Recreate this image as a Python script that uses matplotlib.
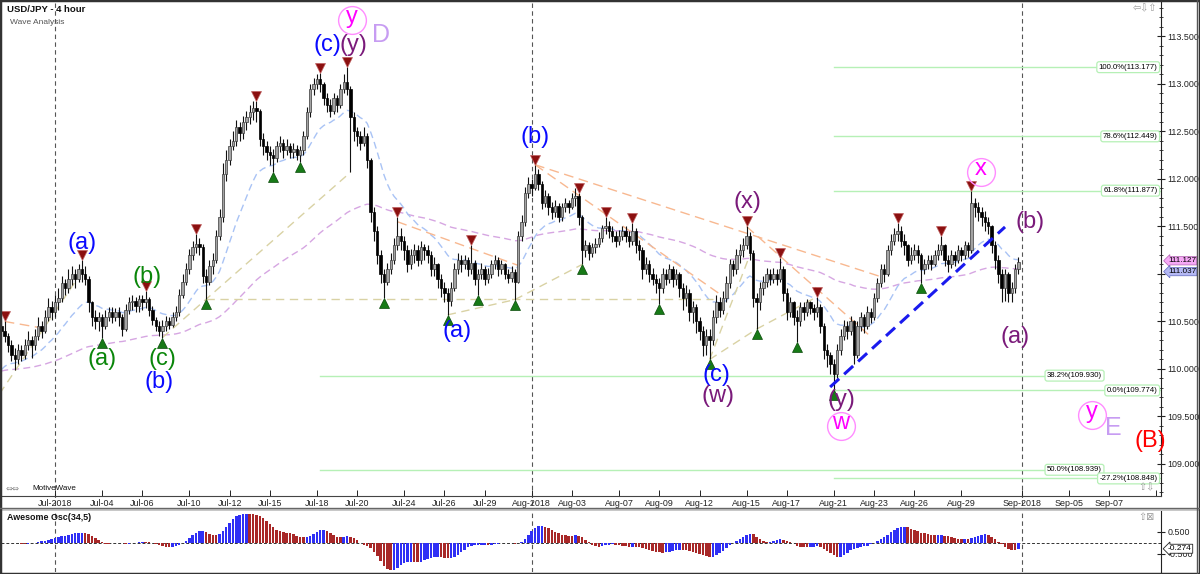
import numpy as np
import pandas as pd
import matplotlib
matplotlib.use("Agg")
import matplotlib.pyplot as plt
from matplotlib import transforms
from matplotlib.patches import Rectangle
from matplotlib.lines import Line2D
from matplotlib.ticker import MultipleLocator

plt.rcParams['font.family'] = ['Liberation Sans', 'DejaVu Sans']

# ---------------- data (USD/JPY 4h bars, 27 Jun 2018 08:00 .. 31 Aug 2018 20:00) ----------------
first_bar = "2018-06-27 08:00"
open0 = 110.45
closes = [
    110.40, 110.35, 110.25, 110.15, 110.10, 110.20, 110.15, 110.25,
    110.30, 110.25, 110.35, 110.45, 110.40, 110.55, 110.65, 110.60,
    110.70, 110.75, 110.90, 110.85, 110.95, 111.00, 110.95, 111.05,
    111.00, 110.95, 110.70, 110.55, 110.50, 110.55, 110.45, 110.55,
    110.60, 110.55, 110.60, 110.55, 110.42, 110.62, 110.70, 110.72,
    110.66, 110.74, 110.70, 110.74, 110.62, 110.52, 110.45, 110.40,
    110.45, 110.50, 110.46, 110.55, 110.60, 110.78, 110.92, 111.05,
    111.20, 111.28, 111.32, 111.28, 110.98, 110.92, 111.08, 111.15,
    111.40, 111.60, 112.05, 112.20, 112.35, 112.40, 112.55, 112.48,
    112.60, 112.65, 112.70, 112.75, 112.72, 112.42, 112.35, 112.28,
    112.25, 112.22, 112.35, 112.38, 112.30, 112.35, 112.28, 112.32,
    112.25, 112.30, 112.45, 112.70, 112.95, 113.00, 113.05, 113.00,
    112.85, 112.78, 112.72, 112.85, 112.78, 112.95, 113.02, 112.95,
    112.65, 112.50, 112.45, 112.38, 112.45, 112.20, 111.65, 111.45,
    111.20, 111.00, 110.92, 111.05, 111.15, 111.30, 111.40, 111.35,
    111.25, 111.10, 111.20, 111.25, 111.15, 111.28, 111.25, 111.20,
    111.05, 111.10, 110.95, 110.85, 110.80, 110.72, 110.85, 111.05,
    111.15, 111.10, 111.15, 111.05, 111.12, 110.95, 111.00, 111.05,
    110.95, 111.00, 111.10, 111.15, 111.05, 111.10, 111.00, 110.96,
    111.02, 110.92, 111.40, 111.55, 111.85, 111.95, 111.90, 112.05,
    111.95, 111.75, 111.82, 111.70, 111.65, 111.72, 111.60, 111.70,
    111.75, 111.70, 111.80, 111.82, 111.60, 111.25, 111.30, 111.22,
    111.28, 111.32, 111.38, 111.48, 111.50, 111.45, 111.40, 111.35,
    111.40, 111.45, 111.40, 111.35, 111.45, 111.30, 111.25, 111.05,
    111.10, 111.00, 110.95, 110.90, 110.85, 111.00, 110.95, 111.05,
    110.95, 111.00, 110.85, 110.75, 110.80, 110.60, 110.65, 110.50,
    110.40, 110.25, 110.35, 110.30, 110.55, 110.70, 110.62, 110.75,
    110.90, 111.10, 111.05, 111.20, 111.25, 111.30, 111.40, 111.22,
    110.75, 110.70, 110.85, 110.92, 111.00, 110.95, 111.00, 110.95,
    111.05, 110.80, 110.60, 110.70, 110.55, 110.50, 110.65, 110.60,
    110.70, 110.64, 110.60, 110.65, 110.45, 110.20, 110.15, 110.05,
    109.95, 110.20, 110.35, 110.45, 110.40, 110.50, 110.15, 110.45,
    110.55, 110.45, 110.60, 110.55, 110.75, 110.90, 111.05, 111.00,
    111.25, 111.35, 111.42, 111.45, 111.35, 111.30, 111.15, 111.20,
    111.25, 111.20, 111.05, 111.10, 111.15, 111.10, 111.20, 111.25,
    111.30, 111.15, 111.10, 111.20, 111.15, 111.25, 111.20, 111.30,
    111.25, 111.75, 111.70, 111.65, 111.60, 111.55, 111.50, 111.30,
    111.15, 111.00, 110.85, 111.00, 110.80, 110.85, 111.05, 111.127,
]
highs = [
    110.52, 110.50, 110.38, 110.30, 110.22, 110.26, 110.25, 110.32,
    110.40, 110.35, 110.42, 110.55, 110.50, 110.62, 110.75, 110.72,
    110.78, 110.85, 110.98, 110.95, 111.05, 111.08, 111.05, 111.10,
    111.15, 111.08, 110.98, 110.72, 110.62, 110.60, 110.58, 110.62,
    110.65, 110.65, 110.64, 110.65, 110.58, 110.68, 110.76, 110.78,
    110.76, 110.78, 110.78, 110.82, 110.76, 110.66, 110.55, 110.50,
    110.52, 110.56, 110.55, 110.60, 110.66, 110.84, 111.00, 111.12,
    111.26, 111.35, 111.42, 111.38, 111.32, 111.05, 111.15, 111.22,
    111.46, 111.68, 112.17, 112.30, 112.42, 112.50, 112.62, 112.60,
    112.66, 112.72, 112.78, 112.82, 112.82, 112.74, 112.48, 112.40,
    112.35, 112.32, 112.40, 112.45, 112.42, 112.42, 112.38, 112.38,
    112.36, 112.35, 112.50, 112.76, 113.00, 113.06, 113.10, 113.12,
    113.02, 112.90, 112.84, 112.90, 112.88, 113.00, 113.10, 113.177,
    112.98, 112.70, 112.55, 112.50, 112.55, 112.48, 112.22, 111.70,
    111.50, 111.25, 111.05, 111.12, 111.22, 111.38, 111.60, 111.48,
    111.40, 111.30, 111.26, 111.32, 111.30, 111.35, 111.32, 111.30,
    111.24, 111.18, 111.12, 111.00, 110.92, 110.85, 110.92, 111.12,
    111.22, 111.20, 111.20, 111.18, 111.30, 111.15, 111.05, 111.12,
    111.08, 111.06, 111.15, 111.20, 111.18, 111.15, 111.12, 111.05,
    111.08, 111.05, 111.45, 111.62, 111.92, 112.02, 112.00, 112.15,
    112.10, 111.98, 111.88, 111.85, 111.76, 111.78, 111.75, 111.75,
    111.80, 111.78, 111.85, 111.90, 111.85, 111.62, 111.36, 111.34,
    111.33, 111.38, 111.44, 111.52, 111.60, 111.56, 111.50, 111.45,
    111.46, 111.50, 111.50, 111.45, 111.54, 111.48, 111.36, 111.28,
    111.18, 111.15, 111.06, 111.00, 110.96, 111.06, 111.05, 111.10,
    111.08, 111.05, 111.02, 110.90, 110.88, 110.84, 110.72, 110.68,
    110.55, 110.45, 110.42, 110.42, 110.62, 110.78, 110.76, 110.82,
    110.98, 111.16, 111.15, 111.26, 111.32, 111.38, 111.50, 111.44,
    111.25, 110.80, 110.92, 110.98, 111.06, 111.05, 111.06, 111.05,
    111.17, 111.08, 110.85, 110.76, 110.72, 110.62, 110.70, 110.70,
    110.74, 110.72, 110.68, 110.76, 110.68, 110.48, 110.26, 110.18,
    110.10, 110.26, 110.42, 110.52, 110.50, 110.56, 110.52, 110.50,
    110.60, 110.58, 110.66, 110.64, 110.80, 110.96, 111.10, 111.10,
    111.30, 111.42, 111.48, 111.54, 111.50, 111.42, 111.32, 111.28,
    111.32, 111.30, 111.22, 111.16, 111.20, 111.20, 111.25, 111.32,
    111.40, 111.32, 111.20, 111.25, 111.24, 111.30, 111.28, 111.35,
    111.34, 111.877, 111.80, 111.76, 111.70, 111.66, 111.60, 111.52,
    111.35, 111.20, 111.05, 111.05, 111.02, 110.92, 111.10, 111.18,
]
lows = [
    110.32, 110.28, 110.18, 110.08, 109.99, 110.05, 110.08, 110.10,
    110.20, 110.12, 110.20, 110.30, 110.33, 110.38, 110.50, 110.52,
    110.55, 110.62, 110.70, 110.78, 110.80, 110.88, 110.85, 110.92,
    110.92, 110.88, 110.60, 110.45, 110.42, 110.40, 110.33, 110.42,
    110.50, 110.48, 110.50, 110.45, 110.35, 110.40, 110.58, 110.62,
    110.60, 110.60, 110.62, 110.64, 110.56, 110.46, 110.40, 110.35,
    110.33, 110.40, 110.42, 110.44, 110.50, 110.56, 110.75, 110.88,
    111.00, 111.15, 111.22, 111.20, 110.90, 110.74, 110.88, 111.00,
    111.12, 111.36, 111.55, 111.98, 112.15, 112.30, 112.35, 112.40,
    112.42, 112.52, 112.58, 112.62, 112.60, 112.35, 112.25, 112.20,
    112.15, 112.07, 112.18, 112.28, 112.22, 112.25, 112.22, 112.22,
    112.20, 112.18, 112.25, 112.42, 112.65, 112.88, 112.95, 112.92,
    112.78, 112.70, 112.65, 112.68, 112.70, 112.75, 112.90, 112.88,
    112.07, 112.40, 112.35, 112.30, 112.35, 112.12, 111.55, 111.35,
    111.10, 110.90, 110.75, 110.88, 111.00, 111.10, 111.25, 111.25,
    111.15, 111.02, 111.05, 111.12, 111.08, 111.10, 111.15, 111.12,
    110.98, 110.98, 110.85, 110.76, 110.70, 110.57, 110.66, 110.82,
    111.00, 111.02, 111.05, 110.98, 111.00, 110.88, 110.78, 110.95,
    110.88, 110.90, 110.96, 111.05, 110.98, 111.00, 110.95, 110.90,
    110.92, 110.73, 110.90, 111.35, 111.50, 111.80, 111.82, 111.88,
    111.88, 111.68, 111.70, 111.62, 111.58, 111.60, 111.55, 111.56,
    111.65, 111.64, 111.68, 111.72, 111.52, 111.10, 111.18, 111.15,
    111.18, 111.22, 111.28, 111.34, 111.42, 111.38, 111.34, 111.28,
    111.30, 111.36, 111.34, 111.28, 111.30, 111.22, 111.15, 110.95,
    111.00, 110.92, 110.88, 110.80, 110.68, 110.80, 110.88, 110.90,
    110.86, 110.88, 110.76, 110.62, 110.66, 110.50, 110.48, 110.38,
    110.30, 110.14, 110.15, 110.10, 110.25, 110.48, 110.55, 110.58,
    110.70, 110.85, 110.98, 111.00, 111.12, 111.18, 111.26, 111.15,
    110.65, 110.42, 110.62, 110.78, 110.86, 110.88, 110.90, 110.88,
    110.92, 110.72, 110.52, 110.55, 110.46, 110.28, 110.45, 110.52,
    110.56, 110.58, 110.52, 110.55, 110.38, 110.10, 110.02, 109.95,
    109.774, 109.90, 110.15, 110.30, 110.32, 110.36, 110.05, 110.12,
    110.40, 110.38, 110.42, 110.48, 110.52, 110.70, 110.86, 110.92,
    110.98, 111.20, 111.30, 111.35, 111.28, 111.20, 111.08, 111.10,
    111.15, 111.12, 110.90, 111.00, 111.05, 111.04, 111.08, 111.15,
    111.20, 111.08, 111.02, 111.06, 111.08, 111.12, 111.14, 111.16,
    111.18, 111.22, 111.60, 111.56, 111.50, 111.45, 111.42, 111.22,
    111.05, 110.90, 110.70, 110.72, 110.70, 110.70, 110.80, 111.00,
]

# swing markers (bar numbers)
peak_bars = [1, 24, 43, 58, 76, 95, 103, 118, 140, 159, 172, 180, 188, 222, 232, 243, 267, 280, 289]
trough_bars = [30, 48, 61, 81, 89, 114, 133, 142, 153, 173, 196, 211, 225, 237, 248, 274]

# date axis
tick_days = ["2018-07-01", "2018-07-04", "2018-07-06", "2018-07-10", "2018-07-12", "2018-07-15",
             "2018-07-18", "2018-07-20", "2018-07-24", "2018-07-26", "2018-07-29", "2018-08-01",
             "2018-08-03", "2018-08-07", "2018-08-09", "2018-08-12", "2018-08-15", "2018-08-17",
             "2018-08-21", "2018-08-23", "2018-08-26", "2018-08-29", "2018-09-02", "2018-09-05",
             "2018-09-07", "2018-09-11"]
month_lines = ["2018-07-01", "2018-08-01", "2018-09-02"]

# fibonacci levels
fib_pct = ["100.0%", "78.6%", "61.8%", "38.2%", "0.0%", "50.0%", "-27.2%"]
fib_val = [113.177, 112.449, 111.877, 109.930, 109.774, 108.939, 108.848]
fib_from = [248, 248, 248, 95, 248, 95, 248]
fib_mid = [False, False, False, True, False, True, False]

# price tags
close_tag = 111.127
ma_tag = 111.037
ao_tag = -0.274

# ---------------- bar schedule ----------------
def schedule(start, end):
    out = []
    for d in pd.date_range(pd.Timestamp(start).normalize(), end, freq="D"):
        wd = d.weekday()
        if wd == 5:
            continue
        hrs = [16, 20] if wd == 6 else [0, 4, 8, 12, 16, 20]
        for hh in hrs:
            t = d + pd.Timedelta(hours=hh)
            if t >= pd.Timestamp(start):
                out.append(t)
    return pd.DatetimeIndex(out)

times = schedule(first_bar, "2018-09-14")
def day_index(day):
    d = pd.Timestamp(day)
    return int(np.argmax(times.normalize() == d))

c = np.array(closes)
h = np.array(highs)
l = np.array(lows)
o = np.concatenate([[open0], c[:-1]])
n = len(c)
x = np.arange(n)

def ema(vals, period, seed):
    a = 2.0 / (period + 1)
    m = seed
    out = []
    for v in vals:
        m = m + a * (v - m)
        out.append(m)
    return np.array(out)

ma_fast = ema(c, 20, 109.95)
ma_slow = ema(c, 100, 109.97)

med = pd.Series((h + l) / 2)
ao = (med.rolling(5, min_periods=1).mean() - med.rolling(34, min_periods=1).mean()).values
ao_up = np.concatenate([[True], np.diff(ao) >= 0])

# ---------------- figure ----------------
W, H = 1200, 574
fig = plt.figure(figsize=(W / 100, H / 100), dpi=100)
fig.patch.set_facecolor("white")

def fx(px):
    return px / W

def fy(py):
    return 1 - py / H

ax = fig.add_axes([fx(1), fy(496), 1160 / W, 494 / H])
ax2 = fig.add_axes([fx(1), fy(572), 1160 / W, 61 / H], sharex=ax)

x_lo, x_hi = -0.09, 345.46
ax.set_xlim(x_lo, x_hi)
ax.set_ylim(108.663, 113.863)
ax2.set_ylim(-1.33, 1.44)

# month separators
for d in month_lines:
    i = day_index(d)
    ax.axvline(i, ymin=-0.035, ymax=1, color="#555555", lw=0.8, ls=(0, (4, 3)), clip_on=False, zorder=1)
    ax2.axvline(i, color="#555555", lw=0.8, ls=(0, (4, 3)), zorder=1)

# fib levels
FIBC = "#b6f0b6"
for pct, val, i0, mid in zip(fib_pct, fib_val, fib_from, fib_mid):
    label = f"{pct}({val:.3f})"
    box = dict(boxstyle="round,pad=0.25,rounding_size=0.3", fc="white", ec=FIBC, lw=0.9)
    if mid:
        xe = 310.9
        ax.plot([i0, xe], [val, val], color=FIBC, lw=1.0, zorder=1)
        ax.text(xe + 0.6, val, label, fontsize=5.6, ha="left", va="center", bbox=box, zorder=6)
    else:
        ax.plot([i0, x_hi], [val, val], color=FIBC, lw=1.0, zorder=1)
        ax.text(x_hi - 1.0, val, label, fontsize=5.6, ha="right", va="center", bbox=box, zorder=6)

# moving averages
ax.plot(x, ma_slow, color="#d6a6e2", lw=1.0, ls=(0, (5, 3)), zorder=2)
ax.plot(x, ma_fast, color="#a9c3f5", lw=1.0, ls=(0, (5, 3)), zorder=2)

# wave connector lines (pivot to pivot)
TAN = "#d9d2a4"
ORG = "#f8b890"
tan_lines = [((-0.5, 109.74), (23.4, 110.99)),
             ((48, lows[48]), (104, lows[104])),
             ((61, lows[61]), (212, lows[61])),
             ((133, lows[133]), (153, lows[153])),
             ((153, lows[153]), (173, lows[173])),
             ((211, lows[211]), (223, 111.20)),
             ((211, lows[211]), (225, lows[225])),
             ((225, lows[225]), (243, highs[243]))]
for (xa, ya), (xb, yb) in tan_lines:
    ax.plot([xa, xb], [ya, yb], color=TAN, lw=1.0, ls=(0, (6, 4)), zorder=2)
orange_lines = [((1, highs[1]), (14, 110.42)),
                ((118, 111.55), (154, 111.09)),
                ((159, highs[159]), (263, 110.96)),
                ((159, highs[159]), (214, 110.79)),
                ((222, highs[222]), (259, 110.34))]
for (xa, ya), (xb, yb) in orange_lines:
    ax.plot([xa, xb], [ya, yb], color=ORG, lw=1.0, ls=(0, (7, 4)), zorder=2)

# candlesticks
ax.vlines(x, l, h, color="#111111", lw=0.8, zorder=3)
up = c >= o
body = np.maximum(np.abs(c - o), 0.006)
ax.bar(x[up], body[up], bottom=o[up], width=0.72, color="#a3a3a3", edgecolor="#3a3a3a", lw=0.5, zorder=4)
ax.bar(x[~up], body[~up], bottom=c[~up], width=0.72, color="#000000", edgecolor="#000000", lw=0.5, zorder=4)

# swing markers
up_off = transforms.offset_copy(ax.transData, fig=fig, y=5, units="dots")
dn_off = transforms.offset_copy(ax.transData, fig=fig, y=-5, units="dots")
ax.plot(peak_bars, h[peak_bars], ls="none", marker="v", ms=6.5, mfc="#8b1010", mec="#c06060",
        mew=0.5, transform=up_off, zorder=5)
ax.plot(trough_bars, l[trough_bars], ls="none", marker="^", ms=6.5, mfc="#177a17", mec="#0a4a0a",
        mew=0.5, transform=dn_off, zorder=5)

# blue trend line
ax.plot([246.9, 299.0], [109.81, 111.495], color="#1a1aee", lw=2.2, ls=(0, (4, 2.2)), zorder=5)

# wave labels
BLUE, GREEN, PURPLE, RED, MAG, LAV = "#0a0aff", "#0a860a", "#7a1a7a", "#ff0000", "#ff00ff", "#c79cf2"
wave_labels = [("(a)", 24.0, 111.33, BLUE), ("(b)", 43.3, 110.97, GREEN), ("(a)", 30.0, 110.11, GREEN),
               ("(c)", 47.9, 110.11, GREEN), ("(b)", 47.0, 109.86, BLUE), ("(c)", 97.3, 113.41, BLUE),
               ("(y)", 104.8, 113.41, PURPLE), ("(b)", 159.0, 112.44, BLUE), ("(a)", 135.8, 110.40, BLUE),
               ("(x)", 222.4, 111.76, PURPLE), ("(c)", 212.9, 109.94, BLUE), ("(w)", 213.5, 109.72, PURPLE),
               ("(y)", 250.4, 109.67, PURPLE), ("(b)", 306.4, 111.55, PURPLE), ("(a)", 302.0, 110.34, PURPLE),
               ("(B)", 342.2, 109.24, RED)]
for t, xi, yi, col in wave_labels:
    ax.text(xi, yi, t, color=col, fontsize=17, ha="center", va="center", zorder=7)
for t, xi, yi in [("D", 113.1, 113.52), ("E", 331.2, 109.38)]:
    ax.text(xi, yi, t, color=LAV, fontsize=18, ha="center", va="center", zorder=7)
for t, xi, yi in [("y", 104.5, 113.67), ("w", 250.1, 109.40), ("x", 291.8, 112.07), ("y", 324.9, 109.52)]:
    ax.plot([xi], [yi], marker="o", ms=20, mfc="none", mec="#ff8cff", mew=1.0, zorder=7)
    ax.text(xi, yi + 0.03, t, color=MAG, fontsize=17, ha="center", va="center", zorder=7)

# axes styling - main
for s in ["top", "left"]:
    ax.spines[s].set_visible(False)
ax.spines["right"].set_color("#222222")
ax.spines["bottom"].set_color("#444444")
ax.yaxis.tick_right()
ax.yaxis.set_major_locator(MultipleLocator(0.5))
ax.yaxis.set_minor_locator(MultipleLocator(0.1))
# the 111.000 level label sits under the price tags, as in the source chart
ax.yaxis.set_major_formatter(plt.FuncFormatter(
    lambda v, p: "" if abs(v - 111.0) < 1e-6 else f"{v:.3f}"))
ax.tick_params(axis="y", which="major", direction="inout", length=6, width=0.8, labelsize=6.4, pad=1.5,
               colors="#222222")
ax.tick_params(axis="y", which="minor", direction="inout", length=3, width=0.6, colors="#222222")
tick_idx = [day_index(d) for d in tick_days]
tick_lab = []
for d in tick_days:
    ts = pd.Timestamp(d)
    if d == "2018-09-11":
        tick_lab.append("")
    elif d in month_lines:
        tick_lab.append(ts.strftime("%b-%Y"))
    else:
        tick_lab.append(ts.strftime("%b-%d"))
ax.set_xticks(tick_idx)
ax.set_xticklabels(tick_lab)
ax.tick_params(axis="x", direction="in", length=4, width=0.7, labelsize=6.4, pad=2, colors="#222222")

# price tags (stacked just right of the price scale)
tr = transforms.blended_transform_factory(ax.transAxes, ax.transData)
ax.text(1.006, close_tag + 0.012, f"{close_tag:.3f}", transform=tr, fontsize=5.9, ha="left", va="center",
        bbox=dict(boxstyle="larrow,pad=0.08", fc="#f6a8f6", ec="#b060b0", lw=0.5), zorder=8, clip_on=False)
ax.text(1.006, ma_tag - 0.012, f"{ma_tag:.3f}", transform=tr, fontsize=5.9, ha="left", va="center",
        bbox=dict(boxstyle="larrow,pad=0.08", fc="#b4b8f4", ec="#6068c0", lw=0.5), zorder=8, clip_on=False)

# ---------------- oscillator ----------------
ax2.axhline(0, color="#333333", lw=0.7, ls=(0, (3, 2)), zorder=1)
ax2.bar(x, ao, width=0.75, color=np.where(ao_up, "#2f2ff5", "#a82828"), zorder=2)
for s in ["top", "left", "bottom"]:
    ax2.spines[s].set_visible(False)
ax2.spines["right"].set_color("#222222")
ax2.yaxis.tick_right()
ax2.set_yticks([-0.5, 0.5])
ax2.set_yticklabels(["-0.500", "0.500"])
ax2.tick_params(axis="y", direction="inout", length=6, width=0.8, labelsize=6.4, pad=1.5, colors="#222222")
ax2.tick_params(axis="x", bottom=False, labelbottom=False)
tr2 = transforms.blended_transform_factory(ax2.transAxes, ax2.transData)
ax2.text(1.006, ao_tag, f"{ao_tag:.3f}", transform=tr2, fontsize=6, ha="left", va="center",
         bbox=dict(boxstyle="larrow,pad=0.12", fc="white", ec="#222222", lw=0.6), zorder=8, clip_on=False)

# ---------------- frame & captions ----------------
fig.patches.append(Rectangle((0, fy(511)), 1, 3 / H, transform=fig.transFigure, fc="#c8c8c8", ec="none"))
fig.lines.append(Line2D([0, 1], [fy(508), fy(508)], transform=fig.transFigure, color="#666666", lw=1))
fig.lines.append(Line2D([fx(1197), fx(1197)], [0, 1], transform=fig.transFigure, color="#555555", lw=1))
fig.patches.append(Rectangle((0, 0), 1, 1, transform=fig.transFigure, fill=False, ec="#333333", lw=2.5))

fig.text(fx(7), fy(10), "USD/JPY - 4 hour", fontsize=6.8, fontweight="bold", ha="left", va="center",
         color="#111111")
fig.text(fx(10), fy(22), "Wave Analysis", fontsize=6, ha="left", va="center", color="#555555")
fig.text(fx(6), fy(488), "\u21d4\u21d4", fontsize=6, ha="left", va="center", color="#888888",
         family=["DejaVu Sans"])
fig.text(fx(32), fy(488), "MotiveWave", fontsize=5.8, ha="left", va="center", color="#111111")
fig.text(fx(7), fy(518), "Awesome Osc(34,5)", fontsize=6.4, fontweight="bold", ha="left", va="center",
         color="#111111")
fig.text(fx(1133), fy(8), "\u21e6\u21e9\u21e7", fontsize=7, ha="left", va="center", color="#999999",
         family=["DejaVu Sans"])
fig.text(fx(1138), fy(487), "\u21e7\u21e9", fontsize=7, ha="left", va="center", color="#999999",
         family=["DejaVu Sans"])
fig.text(fx(1138), fy(517), "\u21e7\u22a0", fontsize=7, ha="left", va="center", color="#999999",
         family=["DejaVu Sans"])

fig.savefig("out.png", dpi=100)
